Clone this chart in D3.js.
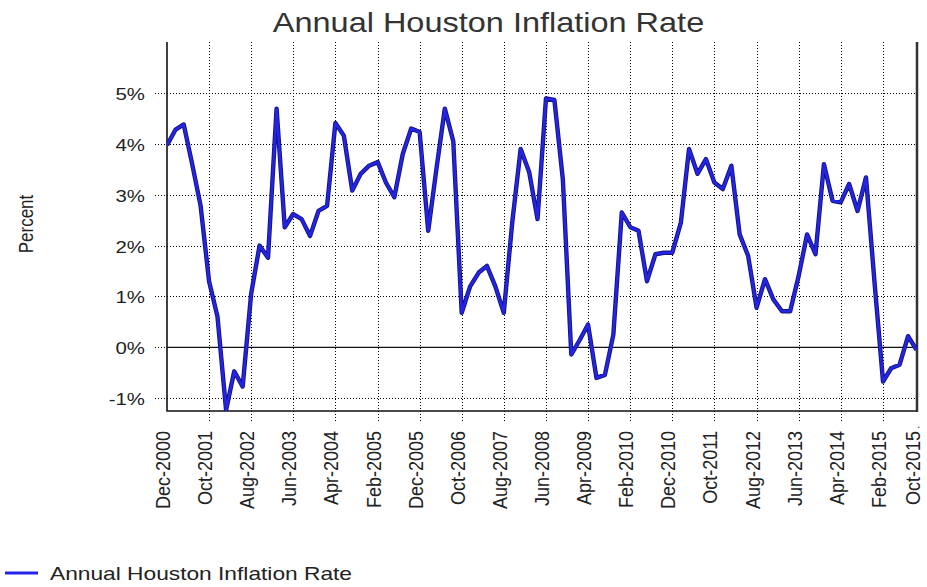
<!DOCTYPE html>
<html>
<head>
<meta charset="utf-8">
<script src="https://cdn.jsdelivr.net/npm/d3@7"></script>
<style>
  body { margin: 0; background: #fff; }
  text { font-family: "Liberation Sans", Arial, sans-serif; }
</style>
</head>
<body>
<div id="chart"></div>
<script>
// bimonthly Houston CPI, year-over-year change (%)
var months = [
  "2000-12",
  "2001-02","2001-04","2001-06","2001-08","2001-10","2001-12",
  "2002-02","2002-04","2002-06","2002-08","2002-10","2002-12",
  "2003-02","2003-04","2003-06","2003-08","2003-10","2003-12",
  "2004-02","2004-04","2004-06","2004-08","2004-10","2004-12",
  "2005-02","2005-04","2005-06","2005-08","2005-10","2005-12",
  "2006-02","2006-04","2006-06","2006-08","2006-10","2006-12",
  "2007-02","2007-04","2007-06","2007-08","2007-10","2007-12",
  "2008-02","2008-04","2008-06","2008-08","2008-10","2008-12",
  "2009-02","2009-04","2009-06","2009-08","2009-10","2009-12",
  "2010-02","2010-04","2010-06","2010-08","2010-10","2010-12",
  "2011-02","2011-04","2011-06","2011-08","2011-10","2011-12",
  "2012-02","2012-04","2012-06","2012-08","2012-10","2012-12",
  "2013-02","2013-04","2013-06","2013-08","2013-10","2013-12",
  "2014-02","2014-04","2014-06","2014-08","2014-10","2014-12",
  "2015-02","2015-04","2015-06","2015-08","2015-10"
];

var rates = [
  3.97,
  4.28, 4.38, 3.60, 2.78, 1.30, 0.60,
  -1.23, -0.47, -0.77, 1.05, 2.00, 1.76,
  4.69, 2.36, 2.62, 2.52, 2.19, 2.68,
  2.78, 4.41, 4.16, 3.08, 3.41, 3.57,
  3.64, 3.24, 2.95, 3.80, 4.30, 4.23,
  2.29, 3.50, 4.69, 4.05, 0.68, 1.20,
  1.47, 1.60, 1.20, 0.68, 2.45, 3.90,
  3.44, 2.52, 4.89, 4.86, 3.30, -0.14,
  0.15, 0.45, -0.60, -0.54, 0.25, 2.65,
  2.36, 2.29, 1.30, 1.83, 1.86, 1.86,
  2.45, 3.90, 3.41, 3.70, 3.24, 3.11,
  3.57, 2.22, 1.80, 0.78, 1.34, 0.94,
  0.71, 0.71, 1.40, 2.22, 1.83, 3.60,
  2.88, 2.85, 3.21, 2.68, 3.34, 1.30,
  -0.67, -0.41, -0.34, 0.22, -0.05
];

var xTickLabels = ["Dec-2000","Oct-2001","Aug-2002","Jun-2003","Apr-2004","Feb-2005",
  "Dec-2005","Oct-2006","Aug-2007","Jun-2008","Apr-2009","Feb-2010","Dec-2010",
  "Oct-2011","Aug-2012","Jun-2013","Apr-2014","Feb-2015","Oct-2015"];

var yTicks = [5, 4, 3, 2, 1, 0, -1];

var titleText = "Annual Houston Inflation Rate",
    seriesName = "Annual Houston Inflation Rate",
    yTitle = "Percent";

// plot box
var plot = {left: 167, right: 917, top: 42, bottom: 411};

var parseMonth = d3.timeParse("%Y-%m"),
    parseTick = d3.timeParse("%b-%Y");

var data = months.map(function(m, i) { return {date: parseMonth(m), rate: rates[i]}; });

var svg = d3.select("#chart")
  .append("svg")
    .attr("width", 927)
    .attr("height", 587);

var x = d3.scaleTime()
  .domain([parseMonth("2000-12"), parseMonth("2015-10")])
  .range([plot.left, 916.5]);

var y = d3.scaleLinear()
  .domain([-1.25, 6])
  .range([plot.bottom, plot.top]);

// title
svg.append("text")
  .attr("transform", "translate(488.5,31.5) scale(1.16,1)")
  .attr("text-anchor", "middle")
  .attr("font-size", 28)
  .attr("fill", "#333")
  .text(titleText);

// horizontal dotted grid (0% is drawn solid below)
svg.append("g")
  .attr("shape-rendering", "crispEdges")
  .selectAll("line")
  .data(yTicks.filter(function(d) { return d !== 0; }))
  .join("line")
    .attr("x1", plot.left - 12)
    .attr("x2", plot.right)
    .attr("y1", function(d) { return Math.round(y(d)) + 0.5; })
    .attr("y2", function(d) { return Math.round(y(d)) + 0.5; })
    .attr("stroke", "#000")
    .attr("stroke-width", 1)
    .attr("stroke-dasharray", "1,2");

// short dotted tick left of zero line
svg.append("line")
  .attr("shape-rendering", "crispEdges")
  .attr("x1", plot.left - 12).attr("x2", plot.left)
  .attr("y1", Math.round(y(0)) + 0.5).attr("y2", Math.round(y(0)) + 0.5)
  .attr("stroke", "#000")
  .attr("stroke-dasharray", "1,2");

// vertical dotted grid
var xTickDates = xTickLabels.map(parseTick);
svg.append("g")
  .attr("shape-rendering", "crispEdges")
  .selectAll("line")
  .data(xTickDates.slice(1, -1))
  .join("line")
    .attr("x1", function(d) { return Math.round(x(d)) + 0.5; })
    .attr("x2", function(d) { return Math.round(x(d)) + 0.5; })
    .attr("y1", plot.top)
    .attr("y2", plot.bottom + 11)
    .attr("stroke", "#000")
    .attr("stroke-width", 1)
    .attr("stroke-dasharray", "1,2");

// zero line
svg.append("line")
  .attr("x1", plot.left).attr("x2", plot.right)
  .attr("y1", y(0)).attr("y2", y(0))
  .attr("stroke", "#111")
  .attr("stroke-width", 1.3);

// frame: left, bottom, right (no top)
svg.append("path")
  .attr("d", "M" + plot.left + "," + plot.top + "V" + plot.bottom + "H" + plot.right)
  .attr("fill", "none")
  .attr("stroke", "#111")
  .attr("stroke-width", 1.6);

svg.append("line")
  .attr("x1", plot.right).attr("x2", plot.right)
  .attr("y1", plot.top).attr("y2", plot.bottom + 1)
  .attr("stroke", "#333")
  .attr("stroke-width", 2.5);

// y tick labels
svg.append("g")
  .selectAll("text")
  .data(yTicks)
  .join("text")
    .attr("transform", function(d) { return "translate(145," + (y(d) + 7) + ") scale(1.2,1)"; })
    .attr("text-anchor", "end")
    .attr("font-size", 17)
    .attr("fill", "#222")
    .text(function(d) { return d + "%"; });

// x tick labels, rotated
svg.append("g")
  .selectAll("text")
  .data(xTickLabels)
  .join("text")
    .attr("transform", function(d) { return "translate(" + (x(parseTick(d)) + 3) + ",431) scale(1.16,1) rotate(-90)"; })
    .attr("text-anchor", "end")
    .attr("font-size", 18)
    .attr("fill", "#222")
    .text(function(d) { return d; });

// dot after last tick label
svg.append("text")
  .attr("x", 917).attr("y", 428)
  .attr("font-size", 12)
  .attr("fill", "#444")
  .text(".");

// y axis title
svg.append("text")
  .attr("transform", "translate(33,224) scale(1.18,1) rotate(-90)")
  .attr("text-anchor", "middle")
  .attr("font-size", 17)
  .attr("fill", "#222")
  .text(yTitle);

// series line
svg.append("defs").append("clipPath")
  .attr("id", "clip")
  .append("rect")
    .attr("x", plot.left)
    .attr("y", plot.top)
    .attr("width", plot.right - plot.left)
    .attr("height", plot.bottom - plot.top);

var line = d3.line()
  .x(function(d) { return x(d.date); })
  .y(function(d) { return y(d.rate); });

var series = svg.append("g").attr("clip-path", "url(#clip)");

series.append("path")
  .datum(data)
  .attr("d", line)
  .attr("fill", "none")
  .attr("stroke", "#14137a")
  .attr("stroke-width", 4.4)
  .attr("stroke-linejoin", "round");

series.append("path")
  .datum(data)
  .attr("d", line)
  .attr("fill", "none")
  .attr("stroke", "#2424e6")
  .attr("stroke-width", 2.6)
  .attr("stroke-linejoin", "round");

// legend
svg.append("line")
  .attr("x1", 5).attr("x2", 38)
  .attr("y1", 573).attr("y2", 573)
  .attr("stroke", "#2424e6")
  .attr("stroke-width", 3);

svg.append("text")
  .attr("x", 50)
  .attr("y", 580)
  .attr("font-size", 18.5)
  .attr("textLength", 302)
  .attr("lengthAdjust", "spacingAndGlyphs")
  .attr("fill", "#222")
  .text(seriesName);
</script>
</body>
</html>
